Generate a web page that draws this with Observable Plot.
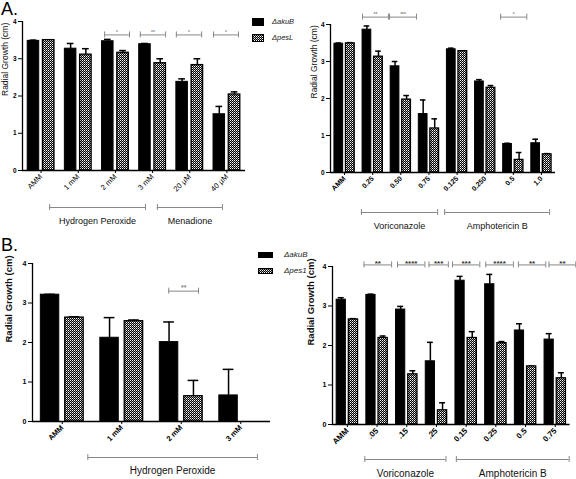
<!DOCTYPE html>
<html><head><meta charset="utf-8">
<script src="https://cdn.jsdelivr.net/npm/d3@7"></script>
<script src="https://cdn.jsdelivr.net/npm/@observablehq/plot@0.6"></script>
<style>
body{margin:0;background:#fff;font-family:"Liberation Sans",Arial,sans-serif;}
#fig{position:relative;width:576px;height:479px;overflow:hidden;background:#fff;}
.p{position:absolute;}
.letter{position:absolute;font-size:18px;line-height:1;color:#000;}
.leg{position:absolute;font-style:italic;color:#222;line-height:1;white-space:nowrap;}
</style></head><body>
<svg width="0" height="0" style="position:absolute">
<defs><pattern id="checker" width="2" height="2" patternUnits="userSpaceOnUse">
<rect width="2" height="2" fill="#000"/><rect width="1" height="1" fill="#fff"/><rect x="1" y="1" width="1" height="1" fill="#9a9a9a"/></pattern></defs></svg>
<div id="fig"></div>
<script>
// ---------- Data ----------
const strains = ["\u0394akuB", "\u0394pesL"];
const strainsB = ["\u0394akuB", "\u0394pes1"];

// Panel A, left
const groupsAL = ["AMM", "1 mM", "2 mM", "3 mM", "20 \u00b5M", "40 \u00b5M"];
const akubAL = [3.48, 3.27, 3.47, 3.39, 2.38, 1.51];
const akubErrAL = [0.02, 0.14, 0.05, 0.02, 0.08, 0.21];
const pesAL = [3.50, 3.11, 3.16, 2.88, 2.83, 2.04];
const pesErrAL = [0.01, 0.16, 0.06, 0.12, 0.17, 0.07];
const sigFromAL = [1.71, 2.67, 3.64, 4.64];
const sigToAL = [2.38, 3.35, 4.32, 5.31];
const sigLabelAL = ["*", "**", "*", "*"];
const sigLevelAL = 3.64;
const bracketNamesAL = ["Hydrogen Peroxide", "Menadione"];
const bracketFromAL = [0.23, 3.13];
const bracketToAL = [2.81, 4.88];

// Panel A, right
const groupsAR = ["AMM", "0.25", "0.50", "0.75", "0.125", "0.250", "0.5", "1.0"];
const akubAR = [3.48, 3.86, 2.87, 1.58, 3.33, 2.46, 0.77, 0.79];
const akubErrAR = [0.02, 0.10, 0.13, 0.38, 0.03, 0.05, 0.02, 0.11];
const pesAR = [3.49, 3.13, 1.97, 1.19, 3.28, 2.29, 0.34, 0.49];
const pesErrAR = [0.02, 0.15, 0.11, 0.26, 0.01, 0.06, 0.20, 0.02];
const sigFromAR = [0.64, 1.60, 5.55];
const sigToAR = [1.56, 2.56, 6.48];
const sigLabelAR = ["**", "***", "*"];
const sigLevelAR = 4.2;
const bracketNamesAR = ["Voriconazole", "Amphotericin B"];
const bracketFromAR = [0.60, 3.56];
const bracketToAR = [3.31, 7.29];

// Panel B, left
const groupsBL = ["AMM", "1 mM", "2 mM", "3 mM"];
const akubBL = [3.21, 2.12, 2.01, 0.66];
const akubErrBL = [0.01, 0.51, 0.51, 0.66];
const pesBL = [2.63, 2.54, 0.64, null];
const pesErrBL = [0.02, 0.03, 0.40, null];
const sigFromBL = [1.79];
const sigToBL = [2.29];
const sigLabelBL = ["**"];
const sigLevelBL = 3.30;
const bracketNamesBL = ["Hydrogen Peroxide"];
const bracketFromBL = [0.43];
const bracketToBL = [3.28];

// Panel B, right
const groupsBR = ["AMM", ".05", ".15", ".25", "0.15", "0.25", "0.5", "0.75"];
const akubBR = [3.16, 3.28, 2.91, 1.60, 3.64, 3.55, 2.38, 2.15];
const akubErrBR = [0.05, 0.02, 0.08, 0.48, 0.11, 0.25, 0.17, 0.15];
const pesBR = [2.66, 2.19, 1.27, 0.36, 2.19, 2.06, 1.47, 1.17];
const pesErrBR = [0.02, 0.05, 0.09, 0.19, 0.16, 0.04, 0.01, 0.14];
const sigFromBR = [0.56, 1.69, 2.75, 3.54, 4.66, 5.76, 6.79];
const sigToBR = [1.49, 2.61, 3.40, 4.46, 5.59, 6.68, 7.69];
const sigLabelBR = ["**", "****", "***", "***", "****", "**", "**"];
const sigLevelBR = 4.04;
const bracketNamesBR = ["Voriconazole", "Amphotericin B"];
const bracketFromBR = [0.59, 3.67];
const bracketToBR = [3.32, 7.47];

const yTicks = [0, 1, 2, 3, 4];
const yLabel = "Radial Growth (cm)";

// ---------- Drawing ----------
const FONT = '"Liberation Sans", Arial, sans-serif';
function panel(o) {
  const n = o.groups.length;
  const ak = o.groups.map((g, i) => ({i, v: o.akub[i], e: o.akubErr[i], c: i - 0.205}));
  const pe = o.groups.map((g, i) => ({i, v: o.pes[i], e: o.pesErr[i], c: i + 0.205})).filter(d => d.v != null);
  const errs = ak.concat(pe).filter(d => d.e > 0);
  const sig = o.sigFrom.map((a, k) => ({x1: a, x2: o.sigTo[k], label: o.sigLabel[k], y: o.sigLevel}));
  const br = o.bracketNames.map((name, k) => ({name, x1: o.bracketFrom[k], x2: o.bracketTo[k]}));
  const ends = sig.flatMap(d => [{x: d.x1, y: d.y}, {x: d.x2, y: d.y}]);
  const brEnds = br.flatMap(d => [{x: d.x1}, {x: d.x2}]);
  const cap = o.cap;
  return Plot.plot({
    width: o.width, height: o.height,
    marginLeft: o.ml, marginRight: o.mr, marginTop: o.mt, marginBottom: o.mb,
    style: {fontFamily: FONT, background: "transparent", overflow: "visible"},
    x: {domain: [-0.5, n - 0.5]},
    y: {domain: [0, 4]},
    marks: [
      Plot.ruleX(errs, {x: "c", y1: "v", y2: d => d.v + d.e, stroke: "#000", strokeWidth: 1.5}),
      Plot.ruleY(errs, {y: d => d.v + d.e, x1: d => d.c - cap, x2: d => d.c + cap, stroke: "#000", strokeWidth: 1.5}),
      Plot.rectY(ak, {x1: d => d.i - 0.36, x2: d => d.i - 0.05, y: "v", fill: "#000", stroke: "#000", strokeWidth: 1}),
      Plot.rectY(pe, {x1: d => d.i + 0.05, x2: d => d.i + 0.36, y: "v", fill: "url(#checker)", stroke: "#000", strokeWidth: 1.3}),
      Plot.ruleY([0], {stroke: "#000", strokeWidth: 1.3}),
      Plot.ruleX([-0.5], {y1: 0, y2: 4, stroke: "#000", strokeWidth: 1.3}),
      Plot.axisY({ticks: yTicks, tickFormat: d3.format("d"), tickSize: 4, tickPadding: 2, fontSize: o.yfs, fontWeight: "bold", label: null}),
      Plot.axisX({ticks: d3.range(n), tickFormat: i => o.groups[i], tickRotate: -45, tickSize: 3, tickPadding: 2,
        fontSize: o.xfs, fontWeight: o.xfw, label: null}),
      Plot.text([yLabel], {frameAnchor: "left", rotate: -90, dx: o.ylx, fontSize: o.ylfs, fontWeight: o.ylfw, fill: "#111"}),
      // significance brackets
      Plot.ruleY(sig, {y: "y", x1: "x1", x2: "x2", stroke: "#888", strokeWidth: 1}),
      Plot.ruleX(ends, {x: "x", y1: "y", y2: "y", insetTop: -3, insetBottom: -3, stroke: "#888", strokeWidth: 1}),
      Plot.text(sig, {x: d => (d.x1 + d.x2) / 2, y: "y", text: "label", lineAnchor: "bottom", dy: o.sdy,
        fontSize: o.sfs, fontWeight: "bold", fill: o.sfill}),
      // treatment group brackets
      Plot.ruleY(br, {y: 0, x1: "x1", x2: "x2", dy: o.bdy, stroke: "#888", strokeWidth: 1}),
      Plot.ruleX(brEnds, {x: "x", y1: 0, y2: 0, dy: o.bdy, insetTop: -3, insetBottom: -3, stroke: "#888", strokeWidth: 1}),
      Plot.text(br, {x: d => (d.x1 + d.x2) / 2, y: 0, text: "name", dy: o.bdy + o.tdy, fontSize: o.bfs, fill: "#111"})
    ]
  });
}

const fig = document.getElementById("fig");
function place(node, left, top) {
  const d = document.createElement("div");
  d.className = "p"; d.style.left = left + "px"; d.style.top = top + "px";
  d.appendChild(node); fig.appendChild(d);
}

place(panel({groups: groupsAL, akub: akubAL, akubErr: akubErrAL, pes: pesAL, pesErr: pesErrAL,
  sigFrom: sigFromAL, sigTo: sigToAL, sigLabel: sigLabelAL, sigLevel: sigLevelAL,
  bracketNames: bracketNamesAL, bracketFrom: bracketFromAL, bracketTo: bracketToAL,
  width: 250, height: 230, ml: 22, mr: 5, mt: 21, mb: 60, cap: 0.09,
  yfs: 6.5, xfs: 7.5, xfw: "normal", ylx: -17, ylfs: 8.5, ylfw: "normal",
  sfs: 5, sdy: -1, sfill: "#888", bdy: 37, tdy: 14, bfs: 9}), 0, 0);

place(panel({groups: groupsAR, akub: akubAR, akubErr: akubErrAR, pes: pesAR, pesErr: pesErrAR,
  sigFrom: sigFromAR, sigTo: sigToAR, sigLabel: sigLabelAR, sigLevel: sigLevelAR,
  bracketNames: bracketNamesAR, bracketFrom: bracketFromAR, bracketTo: bracketToAR,
  width: 286, height: 230, ml: 40, mr: 21, mt: 24, mb: 58, cap: 0.1,
  yfs: 6.5, xfs: 7, xfw: "bold", ylx: -16, ylfs: 8.5, ylfw: "normal",
  sfs: 5, sdy: -1, sfill: "#888", bdy: 40, tdy: 14, bfs: 9}), 290, 0);

place(panel({groups: groupsBL, akub: akubBL, akubErr: akubErrBL, pes: pesBL, pesErr: pesErrBL,
  sigFrom: sigFromBL, sigTo: sigToBL, sigLabel: sigLabelBL, sigLevel: sigLevelBL,
  bracketNames: bracketNamesBL, bracketFrom: bracketFromBL, bracketTo: bracketToBL,
  width: 290, height: 249, ml: 32, mr: 20, mt: 33, mb: 58, cap: 0.09,
  yfs: 7, xfs: 7.5, xfw: "bold", ylx: -24, ylfs: 9.5, ylfw: "bold",
  sfs: 7, sdy: -1, sfill: "#888", bdy: 36, tdy: 13, bfs: 10}), 0, 230);

place(panel({groups: groupsBR, akub: akubBR, akubErr: akubErrBR, pes: pesBR, pesErr: pesErrBR,
  sigFrom: sigFromBR, sigTo: sigToBR, sigLabel: sigLabelBR, sigLevel: sigLevelBR,
  bracketNames: bracketNamesBR, bracketFrom: bracketFromBR, bracketTo: bracketToBR,
  width: 286, height: 249, ml: 42, mr: 6.4, mt: 36, mb: 55, cap: 0.1,
  yfs: 7, xfs: 8, xfw: "bold", ylx: -22, ylfs: 9.5, ylfw: "bold",
  sfs: 8, sdy: 1, sfill: "#333", bdy: 35, tdy: 14, bfs: 10}), 290, 230);

// panel letters
function letter(t, x, y) { const d = document.createElement("div"); d.className = "letter"; d.textContent = t; d.style.left = x + "px"; d.style.top = y + "px"; fig.appendChild(d); }
letter("A.", 1, 0);
letter("B.", 1, 236);

// legends
function legend(names, x, y, sw, sh, gap, fs, tx) {
  names.forEach((name, k) => {
    const svg = d3.create("svg").attr("width", sw).attr("height", sh)
      .style("position", "absolute").style("left", x + "px").style("top", (y + k * gap) + "px");
    svg.append("rect").attr("x", 0.5).attr("y", 0.5).attr("width", sw - 1).attr("height", sh - 1)
      .attr("fill", k === 0 ? "#000" : "url(#checker)").attr("stroke", "#000");
    fig.appendChild(svg.node());
    const t = document.createElement("div"); t.className = "leg"; t.textContent = name;
    t.style.left = (x + tx) + "px"; t.style.top = (y + k * gap + sh / 2 - fs * 0.55) + "px"; t.style.fontSize = fs + "px";
    fig.appendChild(t);
  });
}
legend(strains, 252, 18, 12, 8, 16, 7.5, 20);
legend(strainsB, 258, 252, 15, 6, 16, 8, 26);
</script>
</body></html>
